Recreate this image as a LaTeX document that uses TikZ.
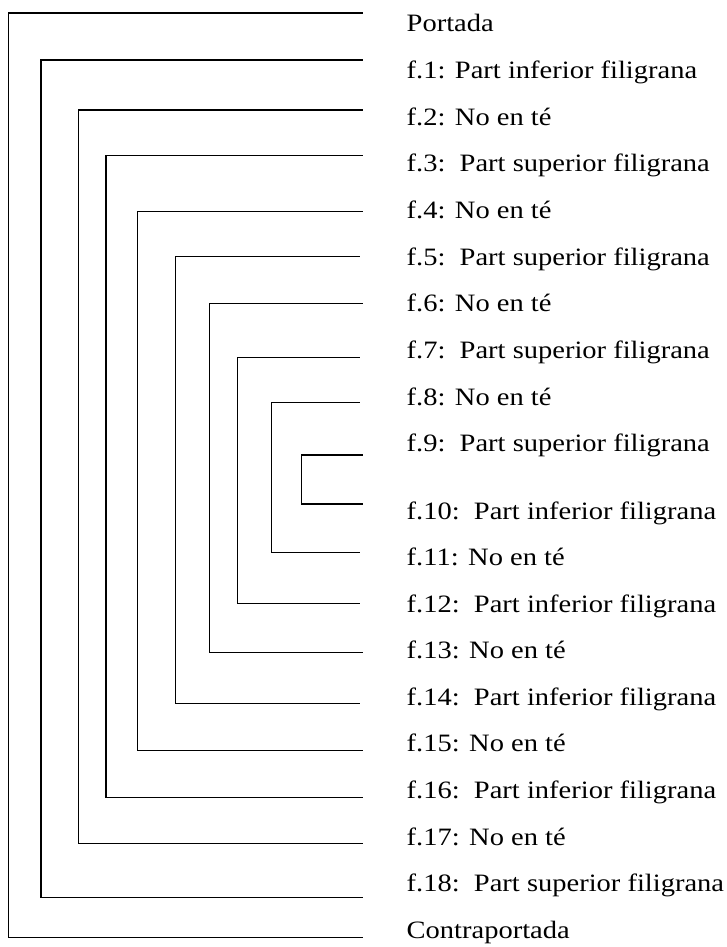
\documentclass[tikz,border=0pt]{standalone}
\usepackage{fontspec}
\setmainfont{Liberation Serif}[FakeStretch=1.14]
\begin{document}
\begin{tikzpicture}[x=1pt,y=-1pt,
  br/.style={draw=black,line width=1.2pt,line cap=rect},
  lbl/.style={anchor=base west,inner sep=0pt,outer sep=0pt,font=\fontsize{25}{30}\selectfont}]
\useasboundingbox[fill=white] (0,0) rectangle (727,947);
% labels
\node[lbl] (l0)  at (406.7,31.7)  {Portada};
\node[lbl] (l1)  at (406.7,78.3)  {f.1: Part inferior filigrana};
\node[lbl] (l2)  at (406.7,125)   {f.2: No en té};
\node[lbl] (l3)  at (406.7,171.7) {f.3:\ \ Part superior filigrana};
\node[lbl] (l4)  at (406.7,218.3) {f.4: No en té};
\node[lbl] (l5)  at (406.7,265)   {f.5:\ \ Part superior filigrana};
\node[lbl] (l6)  at (406.7,311.7) {f.6: No en té};
\node[lbl] (l7)  at (406.7,358.3) {f.7:\ \ Part superior filigrana};
\node[lbl] (l8)  at (406.7,405)   {f.8: No en té};
\node[lbl] (l9)  at (406.7,451.7) {f.9:\ \ Part superior filigrana};
\node[lbl] (l10) at (406.7,519.3) {f.10:\ \ Part inferior filigrana};
\node[lbl] (l11) at (406.7,565)   {f.11: No en té};
\node[lbl] (l12) at (406.7,612.7) {f.12:\ \ Part inferior filigrana};
\node[lbl] (l13) at (406.7,658.3) {f.13: No en té};
\node[lbl] (l14) at (406.7,705)   {f.14:\ \ Part inferior filigrana};
\node[lbl] (l15) at (406.7,751.7) {f.15: No en té};
\node[lbl] (l16) at (406.7,798.3) {f.16:\ \ Part inferior filigrana};
\node[lbl] (l17) at (406.7,845)   {f.17: No en té};
\node[lbl] (l18) at (406.7,891.7) {f.18:\ \ Part superior filigrana};
\node[lbl] (l19) at (406.7,938.3) {Contraportada};
% bracket end points
\coordinate (a1)  at (362.7,13);    \coordinate (z1)  at (362.7,937.7);
\coordinate (a2)  at (362.7,60);    \coordinate (z2)  at (362.7,897.3);
\coordinate (a3)  at (362.7,110);   \coordinate (z3)  at (362.7,843.3);
\coordinate (a4)  at (362.7,155.7); \coordinate (z4)  at (362.7,797.7);
\coordinate (a5)  at (362.7,211.7); \coordinate (z5)  at (362.7,750.3);
\coordinate (a6)  at (359.3,256.7); \coordinate (z6)  at (359.3,703.3);
\coordinate (a7)  at (362.7,303.7); \coordinate (z7)  at (362.7,652.7);
\coordinate (a8)  at (359.3,357.7); \coordinate (z8)  at (359.3,603.7);
\coordinate (a9)  at (359.3,402.3); \coordinate (z9)  at (359.3,552.7);
\coordinate (a10) at (362.7,455);   \coordinate (z10) at (362.7,504);
% brackets
\draw[br] (a1)  -| (8.5,937.7)   -- (z1);
\draw[br] (a2)  -| (41,897.3)    -- (z2);
\draw[br] (a3)  -| (78.3,843.3)  -- (z3);
\draw[br] (a4)  -| (106,797.7)   -- (z4);
\draw[br] (a5)  -| (137.7,750.3) -- (z5);
\draw[br] (a6)  -| (175.3,703.3) -- (z6);
\draw[br] (a7)  -| (209.3,652.7) -- (z7);
\draw[br] (a8)  -| (237.7,603.7) -- (z8);
\draw[br] (a9)  -| (271.7,552.7) -- (z9);
\draw[br] (a10) -| (301.7,504)   -- (z10);
\end{tikzpicture}
\end{document}
